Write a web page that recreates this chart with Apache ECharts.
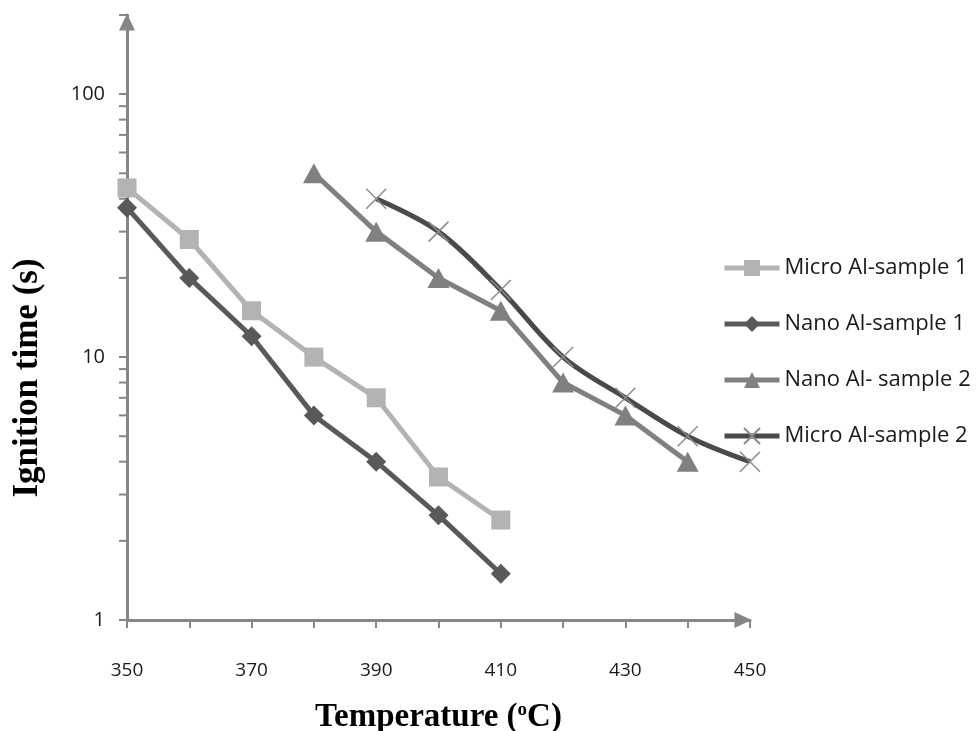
<!DOCTYPE html>
<html>
<head>
<meta charset="utf-8">
<script src="https://cdn.jsdelivr.net/npm/echarts@6/dist/echarts.min.js"></script>
<style>
  html, body { margin: 0; padding: 0; background: #fff; }
  #main { width: 979px; height: 731px; }
</style>
</head>
<body>
<div id="main"></div>
<script>
// temperatures (x) and ignition times (y, log)
const tempMicro1 = [350, 360, 370, 380, 390, 400, 410];
const timeMicro1 = [44, 28, 15, 10, 7, 3.5, 2.4];

const tempNano1 = [350, 360, 370, 380, 390, 400, 410];
const timeNano1 = [37, 20, 12, 6, 4, 2.5, 1.5];

const tempNano2 = [380, 390, 400, 410, 420, 430, 440];
const timeNano2 = [50, 30, 20, 15, 8, 6, 4];

const tempMicro2 = [390, 400, 410, 420, 430, 440, 450];
const timeMicro2 = [40, 30, 18, 10, 7, 5, 4];

// minor ticks of the log axis (2..9 per decade)
const minorTicks = [2, 3, 4, 5, 6, 7, 8, 9, 20, 30, 40, 50, 60, 70, 80, 90];

const seriesNames = ['Micro Al-sample 1', 'Nano Al-sample 1', 'Nano Al- sample 2', 'Micro Al-sample 2'];

const axisGrey = '#868686';
const sansFont = 'Open Sans';
const serifFont = 'Liberation Serif';

function pairs(xs, ys) {
    return xs.map((x, i) => [x, ys[i]]);
}

const crossPath = 'path://M0,0L10,10M10,0L0,10';

const chart = echarts.init(document.getElementById('main'), null, { renderer: 'canvas' });

const option = {
    animation: false,
    grid: {
        left: 127,
        right: 229,
        top: 15,
        bottom: 111,
        outerBoundsMode: 'none'
    },
    legend: {
        data: seriesNames,
        orient: 'vertical',
        left: 722,
        top: 257,
        padding: 0,
        itemWidth: 55,
        itemHeight: 20,
        itemGap: 34,
        lineStyle: { width: 5 },
        textStyle: {
            fontFamily: sansFont,
            fontSize: 22,
            color: '#1a1a1a'
        }
    },
    xAxis: {
        type: 'value',
        min: 350,
        max: 450,
        interval: 10,
        name: 'Temperature ({sup|o}C)',
        nameLocation: 'middle',
        nameGap: 81,
        nameTextStyle: {
            fontFamily: serifFont,
            fontWeight: 'bold',
            fontSize: 33,
            color: '#000',
            rich: {
                sup: {
                    fontFamily: serifFont,
                    fontWeight: 'bold',
                    fontSize: 19,
                    color: '#000',
                    verticalAlign: 'top',
                    padding: [0, 0, 13, 0]
                }
            }
        },
        axisLine: {
            lineStyle: { color: axisGrey, width: 3 },
            symbol: ['none', 'triangle'],
            symbolSize: [16, 17],
            symbolOffset: [0, -7]
        },
        axisTick: {
            inside: false,
            length: 8,
            lineStyle: { color: axisGrey, width: 2 }
        },
        axisLabel: {
            margin: 41,
            fontFamily: sansFont,
            fontSize: 19,
            color: '#1a1a1a',
            formatter: v => ((v - 350) % 20 === 0 ? String(v) : '')
        },
        splitLine: { show: false }
    },
    yAxis: {
        type: 'log',
        logBase: 10,
        min: 1,
        max: 200,
        axisLine: {
            show: true,
            lineStyle: { color: axisGrey, width: 3 },
            symbol: ['none', 'triangle'],
            symbolSize: [16, 17],
            symbolOffset: [0, -7]
        },
        axisTick: {
            show: true,
            length: 8,
            lineStyle: { color: axisGrey, width: 2 }
        },
        axisLabel: {
            margin: 22,
            fontFamily: sansFont,
            fontSize: 20,
            color: '#1a1a1a',
            formatter: v => ([1, 10, 100].indexOf(Math.round(v)) >= 0 ? String(Math.round(v)) : '')
        },
        splitLine: { show: false }
    },
    graphic: [{
        type: 'text',
        x: 28,
        y: 378,
        rotation: Math.PI / 2,
        style: {
            text: 'Ignition time (s)',
            fontFamily: serifFont,
            fontWeight: 'bold',
            fontSize: 35,
            fill: '#000',
            textAlign: 'center',
            textVerticalAlign: 'middle'
        }
    }],
    series: [
        {
            name: seriesNames[0],
            type: 'line',
            data: pairs(tempMicro1, timeMicro1),
            symbol: 'rect',
            symbolSize: 19,
            lineStyle: { color: '#b3b3b3', width: 5 },
            itemStyle: { color: '#b3b3b3' }
        },
        {
            name: seriesNames[1],
            type: 'line',
            data: pairs(tempNano1, timeNano1),
            symbol: 'diamond',
            symbolSize: [20, 20],
            lineStyle: { color: '#595959', width: 5 },
            itemStyle: { color: '#595959' }
        },
        {
            name: seriesNames[2],
            type: 'line',
            data: pairs(tempNano2, timeNano2),
            symbol: 'triangle',
            symbolSize: [22, 20],
            lineStyle: { color: '#808080', width: 5 },
            itemStyle: { color: '#808080' }
        },
        {
            name: seriesNames[3],
            type: 'line',
            data: pairs(tempMicro2, timeMicro2),
            smooth: 0.35,
            symbol: crossPath,
            symbolSize: 20,
            lineStyle: { color: '#4a4a4a', width: 5 },
            itemStyle: { color: '#8c8c8c', borderColor: '#8c8c8c', borderWidth: 1.5 }
        },
        {
            type: 'custom',
            silent: true,
            clip: false,
            data: minorTicks.map(v => [350, v]),
            renderItem: (params, api) => {
                const p = api.coord([api.value(0), api.value(1)]);
                return {
                    type: 'line',
                    shape: { x1: p[0] - 8, y1: p[1], x2: p[0], y2: p[1] },
                    style: { stroke: axisGrey, lineWidth: 2 }
                };
            }
        }
    ]
};

chart.setOption(option);
</script>
</body>
</html>
